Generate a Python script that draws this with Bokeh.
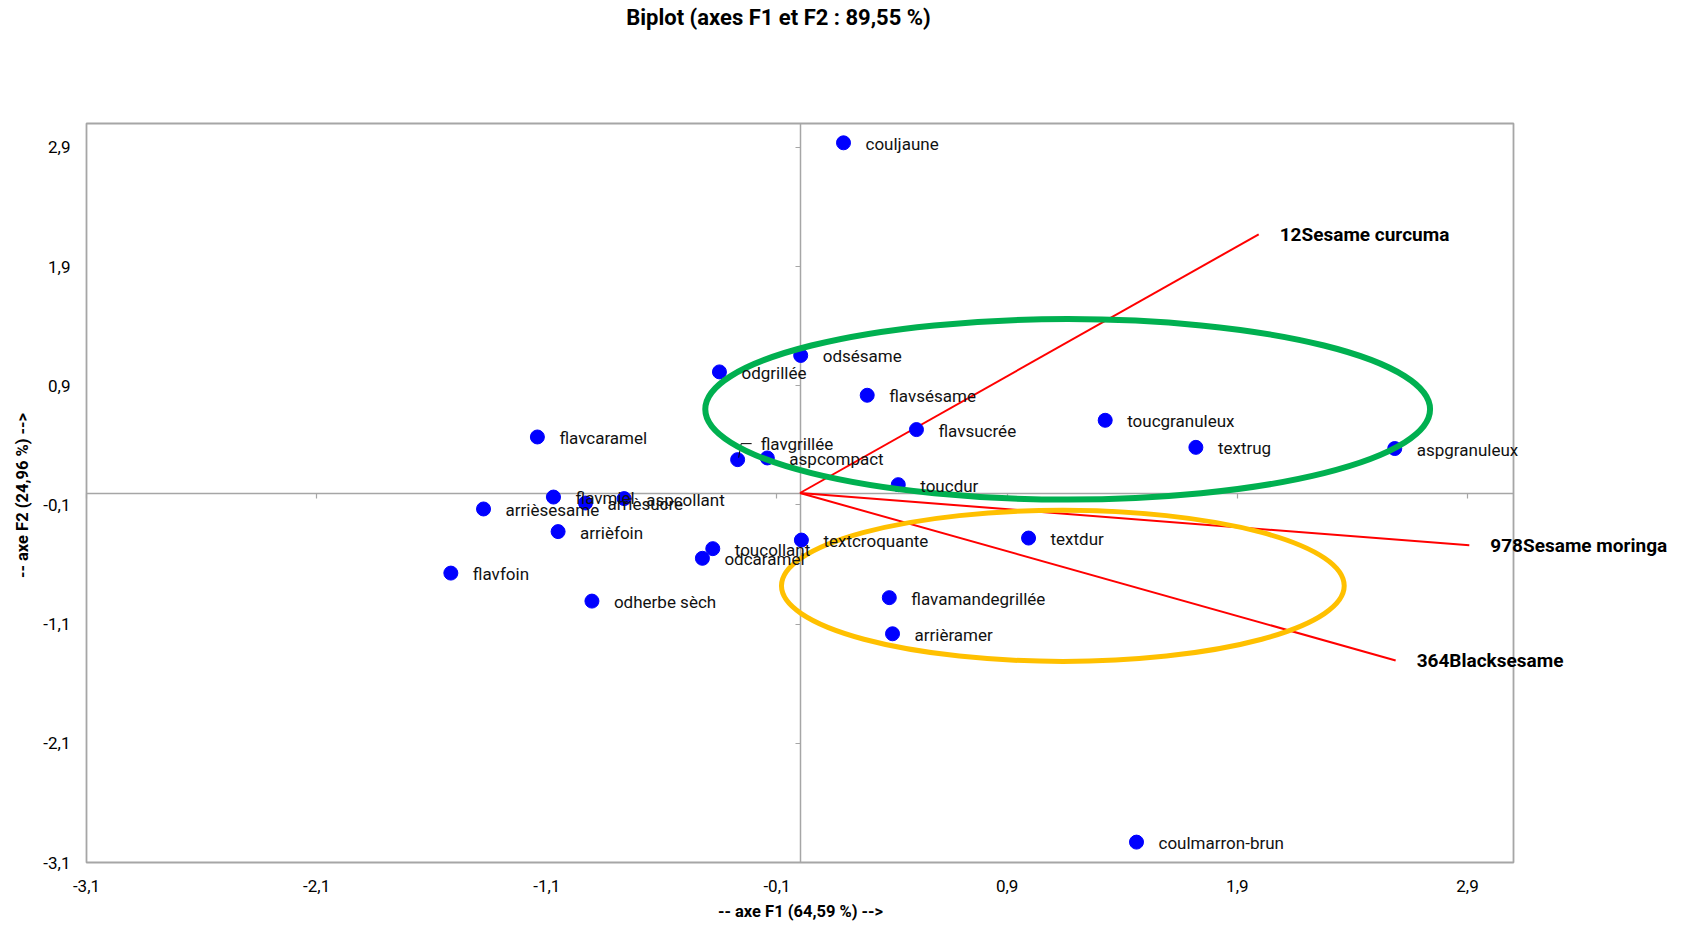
import math
from bokeh.plotting import figure
from bokeh.models import (ColumnDataSource, LabelSet, Label, LinearAxis, FixedTicker,
                          CustomJSTickFormatter, Range1d)
from bokeh.core.properties import value
from bokeh.embed import file_html
from bokeh.resources import INLINE

# ---- data ----
obs_names = ["couljaune", "odsésame", "odgrillée", "flavsésame", "flavsucrée", "toucgranuleux",
             "textrug", "aspgranuleux", "flavcaramel", "flavgrillée", "aspcompact", "toucdur",
             "flavmiel", "arrièsucre", "aspcollant", "arrièsesame", "arrièfoin", "toucollant",
             "odcaramel", "textcroquante", "textdur", "flavfoin", "odherbe sèch",
             "flavamandegrillée", "arrièramer", "coulmarron-brun"]
obs_f1 = [0.189, 0.003, -0.350, 0.292, 0.506, 1.326,
          1.720, 2.584, -1.141, -0.271, -0.142, 0.427,
          -1.071, -0.932, -0.764, -1.375, -1.051, -0.379,
          -0.424, 0.006, 0.993, -1.517, -0.904,
          0.388, 0.402, 1.462]
obs_f2 = [2.938, 1.154, 1.016, 0.820, 0.532, 0.610,
          0.383, 0.373, 0.470, 0.280, 0.294, 0.070,
          -0.034, -0.084, -0.047, -0.134, -0.324, -0.467,
          -0.548, -0.395, -0.378, -0.672, -0.907,
          -0.878, -1.181, -2.929]

var_names = ["12Sesame curcuma", "978Sesame moringa", "364Blacksesame"]
var_f1 = [1.993, 2.908, 2.588]
var_f2 = [2.170, -0.439, -1.405]

tick_values = [-3.1, -2.1, -1.1, -0.1, 0.9, 1.9, 2.9]
axis_min, axis_max = -3.1, 3.1

# highlight ellipses (centre x, centre y, width, height) in axis units
green_ellipse = (1.163, 0.702, 3.149, 1.514)
yellow_ellipse = (1.142, -0.779, 2.445, 1.268)

title_text = "Biplot (axes F1 et F2 : 89,55 %)"
xlabel_text = "-- axe F1 (64,59 %) -->"
ylabel_text = "-- axe F2 (24,96 %) -->"

# ---- layout (pixels) ----
W, H = 1675, 921
BOX_L, BOX_R, BOX_T, BOX_B = 86, 1513, 123, 862
ux = (BOX_R - BOX_L) / (axis_max - axis_min)
uy = (BOX_B - BOX_T) / (axis_max - axis_min)
x_rng = Range1d(axis_min - BOX_L / ux, axis_max + (W - BOX_R) / ux)
y_rng = Range1d(axis_min - (H - BOX_B) / uy, axis_max + BOX_T / uy)

FONT = "Roboto"
GRAY = "#A6A6A6"

p = figure(width=W, height=H, output_backend="svg", toolbar_location=None,
           x_range=x_rng, y_range=y_rng, x_axis_type=None, y_axis_type=None,
           min_border=0, min_border_left=0, min_border_right=0,
           min_border_top=0, min_border_bottom=0)
p.grid.visible = False
p.outline_line_color = None
p.background_fill_color = "white"
p.border_fill_color = "white"

# plot-area box
p.quad(left=[axis_min], right=[axis_max], bottom=[axis_min], top=[axis_max],
       fill_color=None, line_color=GRAY, line_width=1.8, level="underlay")

fmt = CustomJSTickFormatter(code="return tick.toFixed(1).replace('.', ',');")
blank = CustomJSTickFormatter(code="return '';")

# labelled axes along the bottom and left edges of the box
for side, standoff in (("below", 17), ("left", 16)):
    ax = LinearAxis(fixed_location=axis_min, bounds=(axis_min, axis_max),
                    ticker=FixedTicker(ticks=tick_values), formatter=fmt,
                    axis_line_color=None, major_tick_line_color=None, minor_tick_line_color=None,
                    major_tick_out=0, major_tick_in=0,
                    major_label_text_font=FONT, major_label_text_font_size="17px",
                    major_label_text_color="#000000", major_label_standoff=standoff)
    p.add_layout(ax, side)

# zero-crossing axes with small tick marks
for side in ("below", "left"):
    z = LinearAxis(fixed_location=0, bounds=(axis_min, axis_max),
                   ticker=FixedTicker(ticks=tick_values), formatter=blank,
                   axis_line_color=GRAY, axis_line_width=1.5,
                   major_tick_line_color=GRAY, major_tick_line_width=1.2,
                   major_tick_in=0, major_tick_out=5, minor_tick_line_color=None,
                   level="underlay")
    p.add_layout(z, side)

# vectors
vsrc = ColumnDataSource(dict(x0=[0] * len(var_f1), y0=[0] * len(var_f1), x=var_f1, y=var_f2, name=var_names))
p.segment("x0", "y0", "x", "y", source=vsrc, line_color="#FF0000", line_width=2)

# observations
osrc = ColumnDataSource(dict(x=obs_f1, y=obs_f2, name=obs_names))
p.scatter("x", "y", source=osrc, size=14, fill_color="#0000FF", line_color="#0000FF")

label_nudge = {"flavgrillée": 16}
normal = [i for i, n in enumerate(obs_names) if n not in label_nudge]
nsrc = ColumnDataSource(dict(x=[obs_f1[i] for i in normal], y=[obs_f2[i] for i in normal],
                             name=[obs_names[i] for i in normal]))
p.add_layout(LabelSet(x="x", y="y", text="name", source=nsrc, x_offset=22, y_offset=-1,
                      text_font=value(FONT), text_font_size=value("17px"), text_color="#111111",
                      text_baseline="middle", text_align="left"))
for n, dy in label_nudge.items():
    i = obs_names.index(n)
    p.add_layout(Label(x=obs_f1[i], y=obs_f2[i], text=n, x_offset=23, y_offset=dy,
                       text_font=FONT, text_font_size="17px", text_color="#111111",
                       text_baseline="middle", text_align="left"))
    # small leader line from the point to its displaced label
    px, py = obs_f1[i], obs_f2[i]
    p.line(x=[px + 1 / ux, px + 3.5 / ux, px + 14 / ux],
           y=[py + 2 / uy, py + dy / uy, py + dy / uy], line_color="#000000", line_width=1)

p.add_layout(LabelSet(x="x", y="y", text="name", source=vsrc, x_offset=21, y_offset=0,
                      text_font=value(FONT), text_font_style=value("bold"),
                      text_font_size=value("19px"),
                      text_color="#000000", text_baseline="middle", text_align="left"))

# highlight ellipses
for (cx, cy, w, h), col, lw in ((green_ellipse, "#00B050", 6), (yellow_ellipse, "#FFC000", 5)):
    p.ellipse(x=[cx], y=[cy], width=[w], height=[h], fill_alpha=0, line_color=col, line_width=lw)

# titles (screen units: frame covers the whole canvas)
p.add_layout(Label(x=778, y=H - 17, x_units="screen", y_units="screen", text=title_text,
                   text_font=FONT, text_font_style="bold", text_font_size="22px",
                   text_align="center", text_baseline="middle", text_color="#000000"))
p.add_layout(Label(x=800, y=H - 911, x_units="screen", y_units="screen", text=xlabel_text,
                   text_font=FONT, text_font_style="bold", text_font_size="16.5px",
                   text_align="center", text_baseline="middle", text_color="#000000"))
p.add_layout(Label(x=22, y=H - 495, x_units="screen", y_units="screen", text=ylabel_text,
                   angle=math.pi / 2, text_font=FONT, text_font_style="bold", text_font_size="16.5px",
                   text_align="center", text_baseline="middle", text_color="#000000"))

open("out.html", "w").write(file_html(p, INLINE))
